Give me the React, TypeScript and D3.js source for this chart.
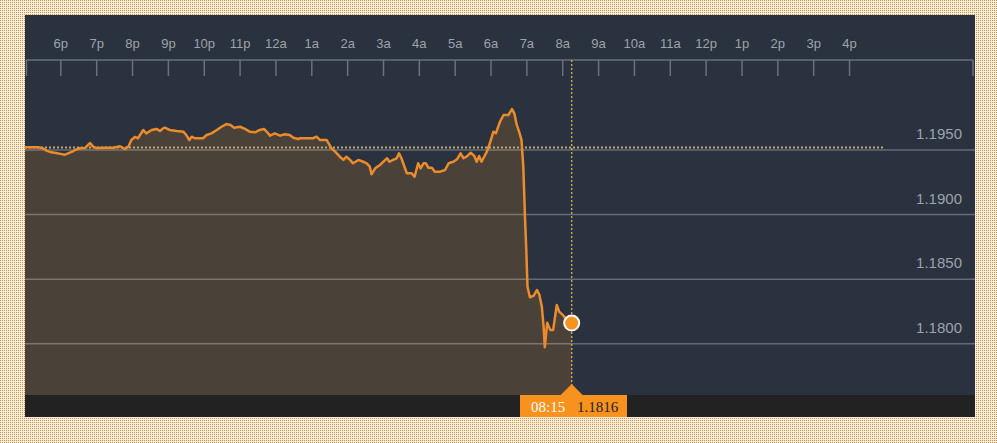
import React from "react";
import * as d3 from "d3";

// minutes after 17:00 (5p) of the previous day
const minutes = [
  0, 11, 22, 30, 36, 44, 55, 67, 72, 81, 86, 92, 100, 109, 114, 120, 134, 148, 159, 167,
  173, 178, 184, 189, 198, 203, 212, 220, 226, 231, 234, 242, 254, 265, 270, 275, 279, 284, 298, 304,
  312, 321, 329, 337, 344, 350, 360, 368, 376, 385, 393, 400, 407, 410, 418, 427, 435, 443, 449, 457,
  460, 482, 488, 494, 505, 513, 519, 527, 533, 538, 544, 549, 558, 566, 572, 577, 580, 586, 594, 603,
  606, 610, 616, 622, 626, 630, 639, 647, 652, 658, 662, 667, 671, 675, 681, 686, 695, 703, 709, 717,
  723, 729, 734, 739, 746, 752, 756, 760, 764, 773, 778, 784, 788, 795, 801, 809, 815, 819, 823, 827,
  831, 834, 837, 839, 841, 845, 851, 857, 861, 865, 868, 870, 874, 879, 884, 890, 894, 900, 907, 915,
];
const rates = [
  1.19521, 1.19521, 1.19521, 1.19513, 1.19495, 1.19482, 1.19474, 1.19464, 1.19474, 1.19492,
  1.19505, 1.19513, 1.19515, 1.19554, 1.19526, 1.19515, 1.19518, 1.19518, 1.19529, 1.19508,
  1.19526, 1.19577, 1.19601, 1.19591, 1.19655, 1.19629, 1.19655, 1.19663, 1.19647, 1.19668,
  1.19673, 1.19655, 1.19647, 1.19642, 1.19616, 1.19577, 1.19603, 1.19591, 1.19591, 1.19616,
  1.19629, 1.19655, 1.1968, 1.19701, 1.19694, 1.19673, 1.1968, 1.19663, 1.19642, 1.19637,
  1.19655, 1.19663, 1.19629, 1.19611, 1.19629, 1.19611, 1.19622, 1.19616, 1.19595, 1.19585,
  1.19591, 1.19591, 1.19603, 1.19577, 1.19577, 1.19513, 1.19487, 1.19448, 1.19423, 1.19448,
  1.19423, 1.19397, 1.19423, 1.19409, 1.19397, 1.19371, 1.19312, 1.19358, 1.19384, 1.19423,
  1.19436, 1.19409, 1.19423, 1.19436, 1.19474, 1.19436, 1.1932, 1.1932, 1.19293, 1.19397,
  1.19358, 1.19397, 1.19397, 1.19363, 1.19363, 1.19332, 1.19332, 1.19345, 1.19397, 1.19409,
  1.19428, 1.19474, 1.19436, 1.19448, 1.19479, 1.19454, 1.19409, 1.19454, 1.19409, 1.19487,
  1.19552, 1.19642, 1.19629, 1.19719, 1.19771, 1.19771, 1.19817, 1.19784, 1.19694, 1.19642,
  1.19577, 1.19371, 1.18958, 1.18726, 1.18442, 1.1836, 1.1837, 1.18416, 1.18378, 1.18287,
  1.18132, 1.17973, 1.18163, 1.18107, 1.18107, 1.183, 1.18248, 1.18223, 1.18184, 1.1816,
];

const hourLabels = [
  "6p", "7p", "8p", "9p", "10p", "11p", "12a", "1a", "2a", "3a", "4a", "5a",
  "6a", "7a", "8a", "9a", "10a", "11a", "12p", "1p", "2p", "3p", "4p",
];
const rateTicks = [1.195, 1.19, 1.185, 1.18];
const previousClose = 1.1952;
const lastTime = "08:15";
const lastRate = 1.1816;

const W = 997;
const H = 443;
const panel = { left: 25, right: 975, top: 15, bottom: 417 };
const plotBottom = 395;
const axisY = 60;

export default function App() {
  const x = d3.scaleLinear().domain([0, 1590]).range([panel.left, panel.right]);
  const y = d3.scaleLinear().domain([1.18, 1.195]).range([343.7, 150]);

  const data = minutes.map((m, i) => ({ m, v: rates[i] }));
  const line = d3
    .line<{ m: number; v: number }>()
    .x((d) => x(d.m))
    .y((d) => y(d.v));
  const area = d3
    .area<{ m: number; v: number }>()
    .x((d) => x(d.m))
    .y0(plotBottom)
    .y1((d) => y(d.v));

  const lastM = minutes[minutes.length - 1];
  const cx = x(lastM);
  const cy = y(lastRate);
  const fmt = d3.format(".4f");

  return (
    <div style={{ position: "absolute", left: 0, top: 0, width: W, height: H }}>
      <svg width={W} height={H} style={{ display: "block" }}>
        <defs>
          <pattern id="dots" width="2" height="2" patternUnits="userSpaceOnUse">
            <rect width="2" height="2" fill="#fbeed6" />
            <rect width="1" height="1" fill="#c9925a" />
          </pattern>
        </defs>
        <rect x={0} y={0} width={W} height={H} fill="url(#dots)" />
        <rect
          x={panel.left}
          y={panel.top}
          width={panel.right - panel.left}
          height={panel.bottom - panel.top}
          fill="#29323e"
        />
        {/* area */}
        <path d={area(data) || ""} fill="#4a4139" />
        {/* grid lines */}
        {rateTicks.map((t) => (
          <line
            key={"g" + t}
            x1={panel.left}
            x2={panel.right}
            y1={y(t)}
            y2={y(t)}
            stroke="#ffffff"
            strokeOpacity={0.28}
            strokeWidth={1.5}
          />
        ))}
        {rateTicks.map((t) => (
          <text
            key={"l" + t}
            x={962}
            y={y(t) - 11}
            textAnchor="end"
            fill="#9ea3aa"
            fontFamily="'Liberation Sans', Arial, sans-serif"
            fontSize={15}
          >
            {fmt(t)}
          </text>
        ))}
        {/* previous close dotted line */}
        <line
          x1={panel.left}
          x2={883}
          y1={y(previousClose)}
          y2={y(previousClose)}
          stroke="#c0a672"
          strokeWidth={2}
          strokeDasharray="2 2"
        />
        {/* top time axis */}
        <line x1={panel.left + 1} x2={panel.right - 2} y1={axisY} y2={axisY} stroke="#6b7179" strokeWidth={1.5} />
        {[panel.left + 1.5, panel.right - 2].map((px, i) => (
          <line key={"e" + i} x1={px} x2={px} y1={axisY} y2={76} stroke="#6b7179" strokeWidth={1.5} />
        ))}
        {hourLabels.map((lab, i) => {
          const px = x((i + 1) * 60);
          return (
            <g key={lab}>
              <line x1={px} x2={px} y1={axisY} y2={76} stroke="#6b7179" strokeWidth={1.5} />
              <text
                x={px}
                y={48}
                textAnchor="middle"
                fill="#9ea3aa"
                fontFamily="'Liberation Sans', Arial, sans-serif"
                fontSize={13}
              >
                {lab}
              </text>
            </g>
          );
        })}
        {/* price line */}
        <path d={line(data) || ""} fill="none" stroke="#ec8b2b" strokeWidth={2.5} strokeLinejoin="round" />
        {/* current time marker */}
        <line
          x1={cx}
          x2={cx}
          y1={axisY}
          y2={385}
          stroke="#c9a34f"
          strokeWidth={1.5}
          strokeDasharray="2 2"
        />
        <circle cx={cx} cy={cy} r={7.5} fill="#f7921e" stroke="#ffffff" strokeWidth={2} />
        {/* bottom bar */}
        <rect x={panel.left} y={plotBottom} width={panel.right - panel.left} height={panel.bottom - plotBottom} fill="#222222" />
        <rect x={520} y={plotBottom} width={107} height={panel.bottom - plotBottom} fill="#f7921e" />
        <path d={`M${cx - 11},${plotBottom} L${cx},${plotBottom - 11} L${cx + 11},${plotBottom} Z`} fill="#f7921e" />
        <text x={531} y={412} fill="#ffffff" fontFamily="'Liberation Serif', 'Times New Roman', serif" fontSize={15}>
          {lastTime}
        </text>
        <text x={577} y={412} fill="#222222" fontFamily="'Liberation Serif', 'Times New Roman', serif" fontSize={15}>
          {fmt(lastRate)}
        </text>
      </svg>
    </div>
  );
}
